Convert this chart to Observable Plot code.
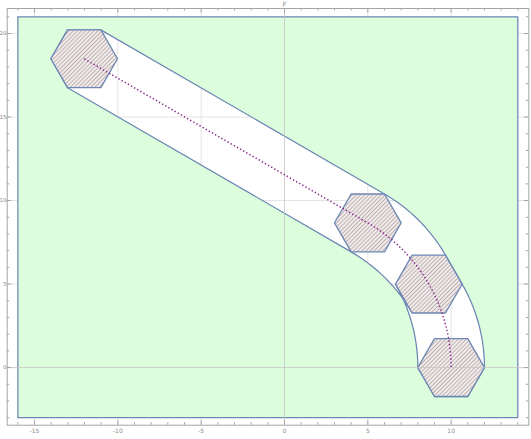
<!DOCTYPE html>
<html><head><meta charset="utf-8">
<script src="https://cdn.jsdelivr.net/npm/d3@7"></script>
<script src="https://cdn.jsdelivr.net/npm/@observablehq/plot@0.6"></script>
<style>
html,body{margin:0;padding:0;background:#fff;}
#chart svg{display:block;}
g[fill="#ddfedd"], g[fill="#ddfedd"] path{fill-rule:evenodd;}
</style></head><body><div id="chart"></div>
<script>
// ---- data ----
const regionX = [-16, 14];          // green rectangle
const regionY = [-3, 21];
const pathStart = [-12.02, 18.49];   // start of straight segment (first hexagon centre)
const arcCenter = [0, 0];
const arcRadius = 10;
const arcAngles = [60, 0];           // degrees, start -> end of the arc
const hexRadius = 2;
const hexCenterX = [-12.02, 5, 8.66, 10];
const hexCenterY = [18.49, 8.66, 5, 0];
const xDomain = [-16.64, 14.66];
const yDomain = [-3.45, 21.5];
const xMajorTicks = [-15, -10, -5, 0, 5, 10];
const yMajorTicks = [0, 5, 10, 15, 20];
const xMinorTicks = [-16,-14,-13,-12,-11,-9,-8,-7,-6,-4,-3,-2,-1,1,2,3,4,6,7,8,9,11,12,13,14];
const yMinorTicks = [-3,-2,-1,1,2,3,4,6,7,8,9,11,12,13,14,16,17,18,19,21];
const gridX = [-15, -10, -5, 5, 10];
const gridY = [5, 10, 15, 20];
const axisLabels = ["y"];
const axisLabelX = [0];

// ---- geometry ----
const rad = Math.PI / 180;
const vtx = k => [hexRadius * Math.cos(k * 60 * rad), hexRadius * Math.sin(k * 60 * rad)];
const arcPt = (deg, off = [0, 0]) => ({
  x: arcCenter[0] + arcRadius * Math.cos(deg * rad) + off[0],
  y: arcCenter[1] + arcRadius * Math.sin(deg * rad) + off[1]
});
const arcRange = (a, b) => { const n = Math.max(1, Math.round(Math.abs(b - a))); const s = []; for (let i = 0; i <= n; i++) s.push(a + (b - a) * i / n); return s; };
const add = (p, o) => ({x: p.x + o[0], y: p.y + o[1]});
const P0 = {x: pathStart[0], y: pathStart[1]};
const midA = (arcAngles[0] + arcAngles[1]) / 2;

const pathPts = [P0, ...arcRange(arcAngles[0], arcAngles[1]).map(d => arcPt(d))];

const v0 = vtx(0), v60 = vtx(1), v120 = vtx(2), v180 = vtx(3), v240 = vtx(4), v300 = vtx(5);
const env = [];
env.push(add(P0, v60));
arcRange(arcAngles[0], midA).forEach(d => env.push(arcPt(d, v60)));
arcRange(midA, arcAngles[1]).forEach(d => env.push(arcPt(d, v0)));
const E = arcPt(arcAngles[1]);
env.push(add(E, v300), add(E, v240));
arcRange(arcAngles[1], midA).forEach(d => env.push(arcPt(d, v180)));
arcRange(midA, arcAngles[0]).forEach(d => env.push(arcPt(d, v240)));
env.push(add(P0, v240), add(P0, v180), add(P0, v120), add(P0, v60));

const greenPts = [
  {x: regionX[0], y: regionY[0]}, {x: regionX[1], y: regionY[0]},
  {x: regionX[1], y: regionY[1]}, {x: regionX[0], y: regionY[1]},
  {x: regionX[0], y: regionY[0]},
  {x: NaN, y: NaN},
  ...env
];

const hexPts = [];
hexCenterX.forEach((cx, i) => {
  for (let k = 0; k <= 6; k++) {
    const v = vtx(k % 6);
    hexPts.push({id: i, x: cx + v[0], y: hexCenterY[i] + v[1]});
  }
});

const W = 531, Hh = 439, mL = 6.7, mR = 2.7, mT = 8, mB = 14.3;
const FW = W - mL - mR, FH = Hh - mT - mB;
const tickC = "#a4a4a4";
const edgeC = "#6d87b4";

const chart = Plot.plot({
  width: W, height: Hh,
  marginLeft: mL, marginRight: mR, marginTop: mT, marginBottom: mB,
  x: {domain: xDomain, axis: null},
  y: {domain: yDomain, axis: null},
  style: {fontFamily: "DejaVu Sans", background: "white"},
  marks: [
    Plot.ruleX(gridX, {x: d => d, stroke: "#e4e4e4", strokeWidth: 1}),
    Plot.ruleY(gridY, {y: d => d, stroke: "#e4e4e4", strokeWidth: 1}),
    Plot.line(greenPts, {x: "x", y: "y", fill: "#ddfedd", stroke: edgeC, strokeWidth: 1.25, curve: "linear"}),
    Plot.line(hexPts, {x: "x", y: "y", z: "id", fill: "url(#hatch)", stroke: edgeC, strokeWidth: 1.3}),
    Plot.ruleX(axisLabelX, {x: d => d, stroke: "#c4c4c4", strokeWidth: 1, strokeOpacity: 0.8}),
    Plot.ruleY([0], {y: d => d, stroke: "#c4c4c4", strokeWidth: 1, strokeOpacity: 0.8}),
    Plot.line(pathPts, {x: "x", y: "y", stroke: "#8b2a8b", strokeWidth: 1.5, strokeDasharray: "1.4,2.2", strokeLinecap: "butt"}),
    Plot.frame({stroke: tickC, strokeWidth: 1}),
    // bottom / top ticks
    Plot.ruleX(xMajorTicks, {x: d => d, insetTop: FH - 4.5, stroke: tickC}),
    Plot.ruleX(xMinorTicks, {x: d => d, insetTop: FH - 2.5, stroke: tickC}),
    Plot.ruleX(xMajorTicks, {x: d => d, insetBottom: FH - 4.5, stroke: tickC}),
    Plot.ruleX(xMinorTicks, {x: d => d, insetBottom: FH - 2.5, stroke: tickC}),
    // left / right ticks
    Plot.ruleY(yMajorTicks, {y: d => d, insetRight: FW - 4.5, stroke: tickC}),
    Plot.ruleY(yMinorTicks, {y: d => d, insetRight: FW - 2.5, stroke: tickC}),
    Plot.ruleY(yMajorTicks, {y: d => d, insetLeft: FW - 4.5, stroke: tickC}),
    Plot.ruleY(yMinorTicks, {y: d => d, insetLeft: FW - 2.5, stroke: tickC}),
    // labels
    Plot.text(xMajorTicks, {x: d => d, y: () => yDomain[0], dy: 6, text: d => String(d), fontSize: 6, fill: "#8a8a8a", lineAnchor: "middle"}),
    Plot.text(yMajorTicks, {x: () => xDomain[0], y: d => d, dx: -0.8, textAnchor: "end", text: d => String(d), fontSize: 5.5, fill: "#8a8a8a"}),
    Plot.text(axisLabels, {x: axisLabelX, y: () => yDomain[1], dy: -5.5, text: d => d, fontSize: 6.5, fontStyle: "italic", fill: "#777"})
  ]
});

const ns = "http://www.w3.org/2000/svg";
const defs = document.createElementNS(ns, "defs");
const pat = document.createElementNS(ns, "pattern");
const S = 2.9;
pat.setAttribute("id", "hatch");
pat.setAttribute("patternUnits", "userSpaceOnUse");
pat.setAttribute("width", S);
pat.setAttribute("height", S);
pat.setAttribute("patternTransform", "rotate(45)");
const bg = document.createElementNS(ns, "rect");
bg.setAttribute("width", S); bg.setAttribute("height", S); bg.setAttribute("fill", "#ededed");
const ln = document.createElementNS(ns, "line");
ln.setAttribute("x1", "0.5"); ln.setAttribute("y1", "0"); ln.setAttribute("x2", "0.5"); ln.setAttribute("y2", S);
ln.setAttribute("stroke", "#b49393"); ln.setAttribute("stroke-width", "0.7");
pat.appendChild(bg); pat.appendChild(ln); defs.appendChild(pat);
chart.insertBefore(defs, chart.firstChild);

document.getElementById("chart").appendChild(chart);
</script></body></html>
